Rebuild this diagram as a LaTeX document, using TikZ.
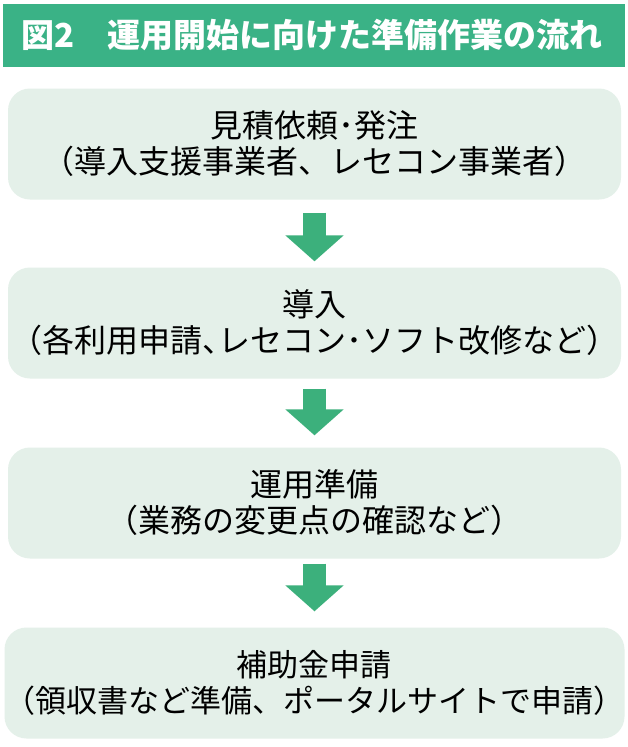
\documentclass[tikz,border=0pt]{standalone}
\usepackage{fontspec}
\setmainfont{Noto Sans CJK JP}
\usetikzlibrary{arrows.meta,calc}
\definecolor{hdrgreen}{RGB}{58,178,134}
\definecolor{arrowgreen}{RGB}{60,176,124}
\definecolor{boxbg}{RGB}{228,240,233}
\tikzset{
  stepbox/.style={fill=boxbg, draw=none, rounded corners=22pt, minimum width=613pt,
    minimum height=111pt, align=center, inner sep=0pt,
    font=\fontsize{32}{36}\selectfont, text=black},
  flowarrow/.style={draw=arrowgreen, line width=23pt,
    -{Triangle[width=57pt,length=26pt,fill=arrowgreen]}}
}
\begin{document}
\begin{tikzpicture}[x=1pt,y=-1pt]
\useasboundingbox (0,0) rectangle (627,747);
\fill[white] (0,0) rectangle (627,747);
\node[fill=hdrgreen, minimum width=622pt, minimum height=63pt, inner sep=0pt] (hdr) at (314,35) {};
\node[anchor=west, text=white, font=\fontsize{33}{36}\selectfont\bfseries, inner sep=0pt] (title) at (21,35) {図2　運用開始に向けた準備作業の流れ};
\node[stepbox] (b1) at (314.5,144) {見積依頼･発注\\（導入支援事業者、レセコン事業者）};
\node[stepbox] (b2) at (314.5,323) {導入\\（各利用申請、\kern-0.5em レセコン･ソフト改修など）};
\node[stepbox] (b3) at (314.5,503) {運用準備\\（業務の変更点の確認など）};
\node[stepbox, font=\fontsize{31}{36}\selectfont] (b4) at (314.5,683) {補助金申請\\（領収書など準備、ポータルサイトで申請）};
\draw[flowarrow] ($(b1.south)+(0,13)$) -- ($(b2.north)+(0,-6)$);
\draw[flowarrow] ($(b2.south)+(0,10)$) -- ($(b3.north)+(0,-12)$);
\draw[flowarrow] ($(b3.south)+(0,5)$) -- ($(b4.north)+(0,-16)$);
\end{tikzpicture}
\end{document}
